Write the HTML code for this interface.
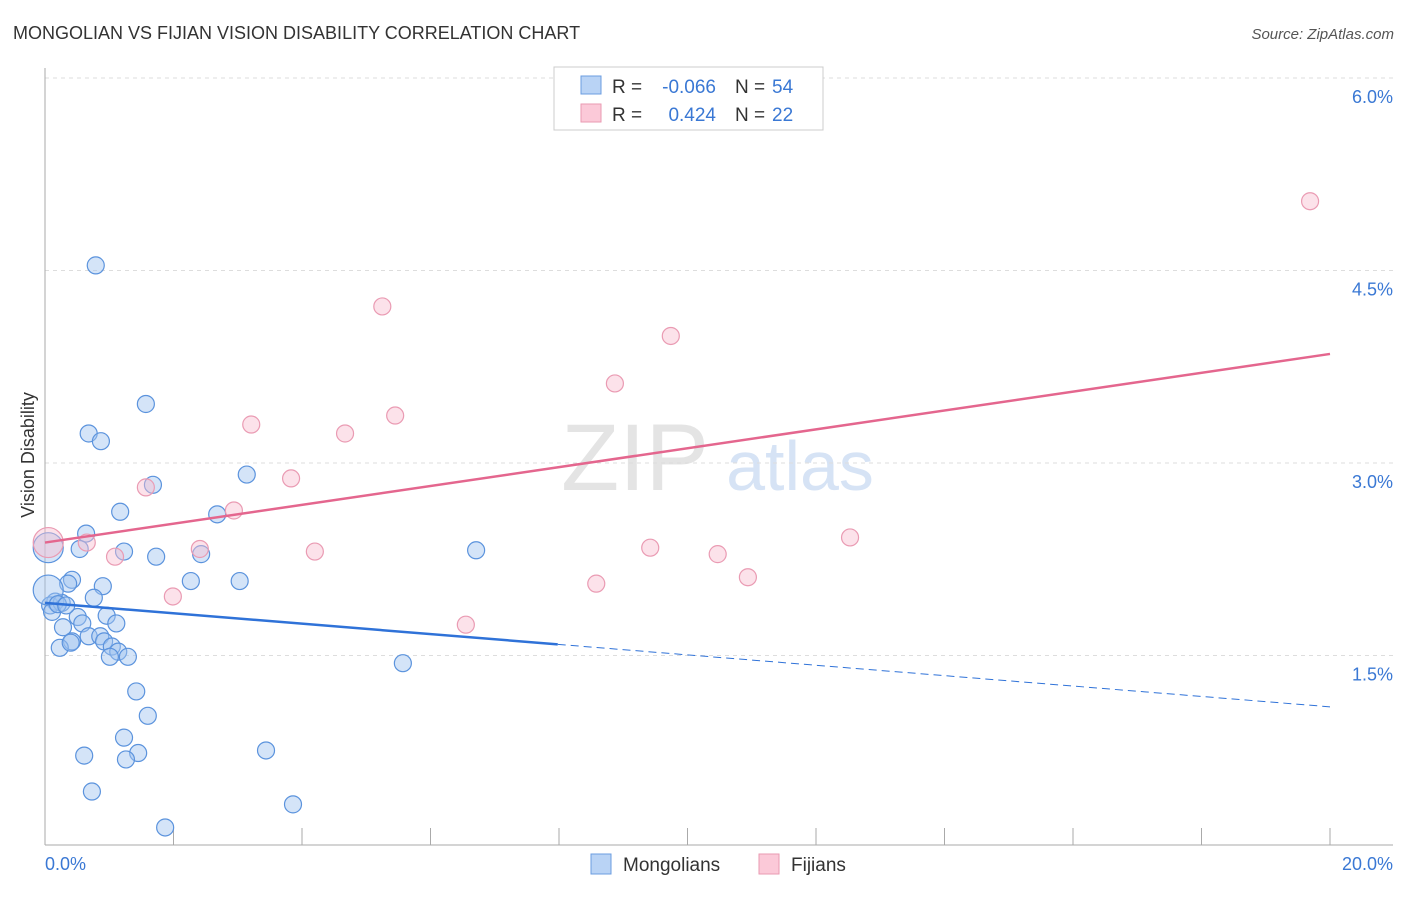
<!DOCTYPE html>
<html><head><meta charset="utf-8"><style>
body{margin:0;background:#fff;font-family:"Liberation Sans",sans-serif;}
svg text{font-family:"Liberation Sans",sans-serif;}
</style></head><body>
<svg id="chart" width="1406" height="892" xmlns="http://www.w3.org/2000/svg">
<text x="13" y="39" font-size="18" fill="#333">MONGOLIAN VS FIJIAN VISION DISABILITY CORRELATION CHART</text>
<text x="1394" y="39" font-size="15" fill="#555" font-style="italic" text-anchor="end">Source: ZipAtlas.com</text>
<text x="635" y="490" font-size="95" fill="#e4e4e4" font-family="Liberation Serif" text-anchor="middle">ZIP</text>
<text x="800" y="490" font-size="70" fill="#d6e3f5" text-anchor="middle">atlas</text>
<g id="grid"></g><g id="axes"></g><g id="marks"></g>
<text transform="translate(34,455) rotate(-90)" font-size="18" fill="#333" text-anchor="middle">Vision Disability</text>
<text x="45" y="870" font-size="18" fill="#3a78d4">0.0%</text>
<text x="1393" y="870" font-size="18" fill="#3a78d4" text-anchor="end">20.0%</text>
<g>
<rect x="554" y="67" width="269" height="63" fill="#fff" stroke="#ccc"/>
<rect x="581" y="76" width="20" height="18" fill="#b9d3f5" stroke="#6b9de0"/>
<rect x="581" y="104" width="20" height="18" fill="#fbc9d8" stroke="#e99ab2"/>
<text x="612" y="93" font-size="19" fill="#333">R =</text>
<text x="716" y="93" font-size="19" fill="#3a78d4" text-anchor="end">-0.066</text>
<text x="735" y="93" font-size="19" fill="#333">N =</text>
<text x="772" y="93" font-size="19" fill="#3a78d4">54</text>
<text x="612" y="121" font-size="19" fill="#333">R =</text>
<text x="716" y="121" font-size="19" fill="#3a78d4" text-anchor="end">0.424</text>
<text x="735" y="121" font-size="19" fill="#333">N =</text>
<text x="772" y="121" font-size="19" fill="#3a78d4">22</text>
</g>
<g>
<rect x="591" y="854" width="20" height="20" fill="#b9d3f5" stroke="#6b9de0"/>
<text x="623" y="871" font-size="19" fill="#333">Mongolians</text>
<rect x="759" y="854" width="20" height="20" fill="#fbc9d8" stroke="#e99ab2"/>
<text x="791" y="871" font-size="19" fill="#333">Fijians</text>
</g>
</svg>
<script>
const yTicks=[1.5,3.0,4.5,6.0];
const xTicks=[0,2,4,6,8,10,12,14,16,18,20];
const mongX=[0.79,1.57,0.68,0.87,1.68,3.14,1.17,2.68,0.64,0.54,1.23,1.73,2.43,6.71,0.42,0.36,0.90,2.27,3.03,0.76,0.16,0.08,0.26,0.11,0.51,0.96,0.28,0.58,1.11,0.68,0.86,0.42,0.92,0.23,1.04,1.14,1.01,1.29,5.57,1.42,1.60,1.23,1.45,0.61,1.26,3.44,0.73,3.86,1.87,0.05,0.05,0.20,0.33,0.40];
const mongY=[4.54,3.46,3.23,3.17,2.83,2.91,2.62,2.60,2.45,2.33,2.31,2.27,2.29,2.32,2.09,2.06,2.04,2.08,2.08,1.95,1.92,1.89,1.91,1.84,1.80,1.81,1.72,1.75,1.75,1.65,1.65,1.61,1.61,1.56,1.57,1.53,1.49,1.49,1.44,1.22,1.03,0.86,0.74,0.72,0.69,0.76,0.44,0.34,0.16,2.01,2.34,1.90,1.89,1.60];
const fijX=[19.69,5.25,9.74,8.87,5.45,3.21,4.67,3.83,1.57,2.94,0.65,12.53,2.41,4.20,9.42,10.47,1.09,10.94,8.58,1.99,6.55,0.05];
const fijY=[5.04,4.22,3.99,3.62,3.37,3.30,3.23,2.88,2.81,2.63,2.38,2.42,2.33,2.31,2.34,2.29,2.27,2.11,2.06,1.96,1.74,2.38];
const mongTrend=[1.91,1.10];const mongSolidEnd=7.98;
const fijTrend=[2.38,3.85];
const X=v=>45+v*64.25, Y=v=>848-v*128.33;
const NS="http://www.w3.org/2000/svg";
function mk(p,t,a){const e=document.createElementNS(NS,t);for(const k in a)e.setAttribute(k,a[k]);document.getElementById(p).appendChild(e);return e;}
yTicks.forEach(t=>{
 const l=mk('grid','line',{x1:45,x2:1393,y1:Y(t),y2:Y(t),stroke:'#ddd','stroke-dasharray':'4,4'});
 
 
 const tx=mk('grid','text',{x:1393,y:Y(t)+25,'font-size':18,fill:'#3a78d4','text-anchor':'end'});
 tx.textContent=t.toFixed(1)+'%';
 
 
});
const tg=mk('grid','line',{x1:45,x2:1393,y1:78,y2:78,stroke:'#ddd','stroke-dasharray':'4,4'});


const ya=mk('axes','line',{x1:45,x2:45,y1:68,y2:845,stroke:'#aaa'});


const xa=mk('axes','line',{x1:45,x2:1393,y1:845,y2:845,stroke:'#aaa'});


xTicks.forEach(t=>{
 const l=mk('axes','line',{x1:X(t),x2:X(t),y1:828,y2:845,stroke:'#aaa'});
 
 
});
mongX.forEach((x,i)=>{
 const big=i>=49&&i<=50;
 const c=mk('marks','circle',{cx:X(x),cy:Y(mongY[i]),r:big?15:8.5,fill:'rgba(160,195,240,0.45)',stroke:'#5b93dd','stroke-width':1.2});
 
 
});
fijX.forEach((x,i)=>{
 const c=mk('marks','circle',{cx:X(x),cy:Y(fijY[i]),r:i==21?15:8.5,fill:'rgba(248,190,208,0.45)',stroke:'#ea9bb3','stroke-width':1.2});
 
 
});
const mAt=x=>mongTrend[0]+(mongTrend[1]-mongTrend[0])*x/20;
const m1=mk('marks','line',{x1:X(0),y1:Y(mAt(0)),x2:X(mongSolidEnd),y2:Y(mAt(mongSolidEnd)),stroke:'#2f72d8','stroke-width':2.5});


const m2=mk('marks','line',{x1:X(mongSolidEnd),y1:Y(mAt(mongSolidEnd)),x2:X(20),y2:Y(mAt(20)),stroke:'#2f72d8','stroke-width':1,'stroke-dasharray':'8,5'});


const f1=mk('marks','line',{x1:X(0),y1:Y(fijTrend[0]),x2:X(20),y2:Y(fijTrend[1]),stroke:'#e4668e','stroke-width':2.5});


</script>
</body></html>
